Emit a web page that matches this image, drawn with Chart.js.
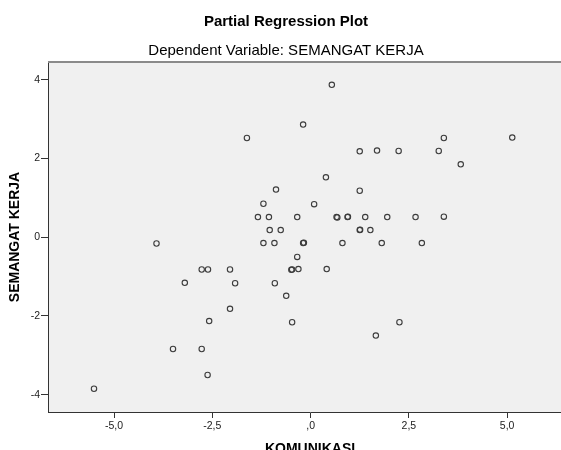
<!DOCTYPE html>
<html>
<head>
<meta charset="utf-8">
<script src="https://cdn.jsdelivr.net/npm/chart.js@4/dist/chart.umd.min.js"></script>
<style>
  html, body { margin: 0; padding: 0; background: #fff; overflow: hidden; }
  #wrap { width: 576px; height: 470px; }
</style>
</head>
<body>
<div id="wrap"><canvas id="PartialPlot" width="576" height="470"></canvas></div>
<script>
// values (overlapping pairs kept as two points)
const komunikasi = [
  3.39, 5.13, 3.26, 3.82, 3.39, 2.83,
  0.54, -0.19, -1.62, 1.25, 1.69, 2.24, 0.39, -0.88, 1.25, -1.20, 0.09,
  -1.34, -1.06, -0.34, 0.66, 0.68, 0.94, 0.95, 1.39, 1.95, 2.67,
  -1.04, -0.76, 1.25, 1.26, 1.52,
  -1.20, -0.92, -0.19, -0.17, 0.81, 1.81, -0.34,
  -2.77, -2.61, -2.05, -0.49, -0.47, -0.31, 0.41,
  -1.92, -0.91, -0.62, -2.05, -2.58, -0.47, 2.26, 1.66,
  -3.92, -3.20, -3.50, -2.77, -2.62, -5.51
];
const semangatKerja = [
  2.52, 2.53, 2.19, 1.85, 0.52, -0.15,
  3.87, 2.86, 2.52, 2.18, 2.20, 2.19, 1.52, 1.21, 1.18, 0.85, 0.84,
  0.51, 0.51, 0.51, 0.51, 0.50, 0.51, 0.52, 0.51, 0.51, 0.51,
  0.18, 0.18, 0.18, 0.19, 0.18,
  -0.15, -0.15, -0.15, -0.14, -0.15, -0.15, -0.50,
  -0.82, -0.82, -0.82, -0.83, -0.82, -0.81, -0.81,
  -1.17, -1.17, -1.49, -1.82, -2.13, -2.16, -2.16, -2.50,
  -0.16, -1.16, -2.84, -2.84, -3.50, -3.85
];

const xTickValues = [-5, -2.5, 0, 2.5, 5];
const xTickLabels = ['-5,0', '-2,5', ',0', '2,5', '5,0'];
const yTickValues = [-4, -2, 0, 2, 4];
const yTickLabels = ['-4', '-2', '0', '2', '4'];

const fontFamily = "'Liberation Sans', Arial, sans-serif";

const plotFrame = {
  id: 'plotFrame',
  beforeDraw(chart) {
    const { ctx, chartArea: a } = chart;
    ctx.save();
    ctx.fillStyle = '#f0f0f0';
    ctx.fillRect(a.left, a.top, a.right - a.left, a.bottom - a.top);
    ctx.restore();
  },
  afterDraw(chart) {
    const { ctx, chartArea: a } = chart;
    ctx.save();
    ctx.strokeStyle = '#8a8a8a';
    ctx.lineWidth = 2;
    ctx.beginPath();
    ctx.moveTo(a.left, a.top);
    ctx.lineTo(a.right, a.top);
    ctx.moveTo(a.right, a.top);
    ctx.lineTo(a.right, a.bottom);
    ctx.stroke();
    ctx.restore();
  }
};

let ctx = document.getElementById('PartialPlot').getContext('2d');

new Chart(ctx, {
  type: 'scatter',
  data: {
    datasets: [{
      label: 'SEMANGAT KERJA',
      data: komunikasi.map((x, i) => ({ x: x, y: semangatKerja[i] })),
      pointStyle: 'circle',
      pointRadius: 2.7,
      pointBorderWidth: 1.1,
      borderColor: '#3c3c3c',
      backgroundColor: 'rgba(0,0,0,0)',
      pointHoverRadius: 2.7
    }]
  },
  options: {
    responsive: false,
    animation: false,
    layout: { padding: { left: 0, right: 4, top: 0, bottom: 0 } },
    plugins: {
      legend: { display: false },
      tooltip: { enabled: false },
      title: {
        display: true,
        text: 'Partial Regression Plot',
        color: '#000',
        font: { family: fontFamily, size: 15, weight: 'bold' },
        padding: { top: 13, bottom: 5 }
      },
      subtitle: {
        display: true,
        text: 'Dependent Variable: SEMANGAT KERJA',
        color: '#000',
        font: { family: fontFamily, size: 15, weight: 'normal' },
        padding: { top: 6, bottom: 2 }
      }
    },
    scales: {
      x: {
        type: 'linear',
        min: -6.68,
        max: 6.65,
        afterFit: (scale) => { scale.height = 58; },
        afterBuildTicks: (scale) => { scale.ticks = xTickValues.map(v => ({ value: v })); },
        ticks: {
          autoSkip: false,
          maxRotation: 0,
          padding: 2,
          color: '#222',
          font: { family: fontFamily, size: 10.5 },
          callback: (value) => xTickLabels[xTickValues.indexOf(value)]
        },
        grid: { display: true, drawOnChartArea: false, drawTicks: true, tickLength: 6, color: '#333' },
        border: { display: true, color: '#333', width: 1 },
        title: {
          display: true,
          text: 'KOMUNIKASI',
          color: '#000',
          font: { family: fontFamily, size: 14, weight: 'bold' },
          padding: { top: 0, bottom: 12 }
        }
      },
      y: {
        type: 'linear',
        min: -4.44,
        max: 4.45,
        afterFit: (scale) => { scale.width = 48; },
        afterBuildTicks: (scale) => { scale.ticks = yTickValues.map(v => ({ value: v })); },
        ticks: {
          autoSkip: false,
          padding: 1,
          color: '#222',
          font: { family: fontFamily, size: 10.5 },
          callback: (value) => yTickLabels[yTickValues.indexOf(value)]
        },
        grid: { display: true, drawOnChartArea: false, drawTicks: true, tickLength: 7, color: '#333' },
        border: { display: true, color: '#333', width: 1 },
        title: {
          display: true,
          text: 'SEMANGAT KERJA',
          color: '#000',
          font: { family: fontFamily, size: 14, weight: 'bold' },
          padding: { top: 7, bottom: 0 }
        }
      }
    }
  },
  plugins: [plotFrame]
});
</script>
</body>
</html>
